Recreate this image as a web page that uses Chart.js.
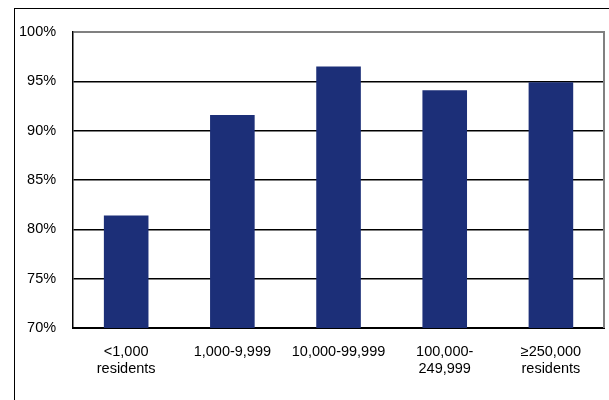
<!DOCTYPE html>
<html lang="en">
<head>
<meta charset="UTF-8">
<title>Share by municipality size</title>
<script src="https://cdn.jsdelivr.net/npm/chart.js"></script>
<style>
    html, body { margin: 0; padding: 0; background: #fff; overflow: hidden; }
    #wrap { position: relative; width: 609px; height: 400px; }
    #frame {
        position: absolute; left: 14px; top: 8px; width: 700px; height: 500px;
        border: 1.5px solid #000; box-sizing: border-box;
    }
    canvas { position: absolute; left: 0; top: 0; }
</style>
</head>
<body>
<div id="wrap">
    <div id="frame"></div>
    <canvas id="chart" width="609" height="400"></canvas>
</div>
<script>
    // data
    const categories = [['<1,000', 'residents'], '1,000-9,999', '10,000-99,999', ['100,000-', '249,999'], ['≥250,000', 'residents']];
    const values = [81.4, 91.6, 96.5, 94.1, 94.9];
    const yTicks = [70, 75, 80, 85, 90, 95, 100];

    // grey right border of the plot area
    const rightEdge = {
        id: 'rightEdge',
        afterDraw(chart) {
            const a = chart.chartArea;
            const c = chart.ctx;
            c.save();
            c.strokeStyle = '#808080';
            c.lineWidth = 2;
            c.beginPath();
            c.moveTo(a.right, a.top - 1);
            c.lineTo(a.right, a.bottom);
            c.stroke();
            c.restore();
        }
    };

    const ctx = document.getElementById('chart').getContext('2d');
    new Chart(ctx, {
        type: 'bar',
        data: {
            labels: categories,
            datasets: [{
                data: values,
                backgroundColor: '#1c2f78',
                barPercentage: 0.42,
                categoryPercentage: 1.0
            }]
        },
        options: {
            responsive: false,
            animation: false,
            layout: { padding: { left: 2, right: 5, top: 32, bottom: 16 } },
            plugins: { legend: { display: false }, tooltip: { enabled: false } },
            scales: {
                x: {
                    grid: { display: false },
                    border: { color: '#000', width: 2 },
                    ticks: {
                        color: '#000',
                        font: { family: 'Liberation Sans, Arial', size: 14.5, lineHeight: 1.17 },
                        padding: 7,
                        maxRotation: 0
                    }
                },
                y: {
                    min: 70,
                    max: 100,
                    afterBuildTicks(axis) {
                        axis.ticks = yTicks.map(v => ({ value: v }));
                    },
                    grid: {
                        drawTicks: false,
                        color: c => c.tick && c.tick.value === 100 ? '#808080' : '#000',
                        lineWidth: c => c.tick && c.tick.value === 100 ? 2 : 1.5
                    },
                    border: { color: '#000', width: 1.5 },
                    ticks: {
                        color: '#000',
                        font: { family: 'Liberation Sans, Arial', size: 14.5 },
                        padding: 17,
                        callback: v => v + '%'
                    }
                }
            }
        },
        plugins: [rightEdge]
    });
</script>
</body>
</html>
